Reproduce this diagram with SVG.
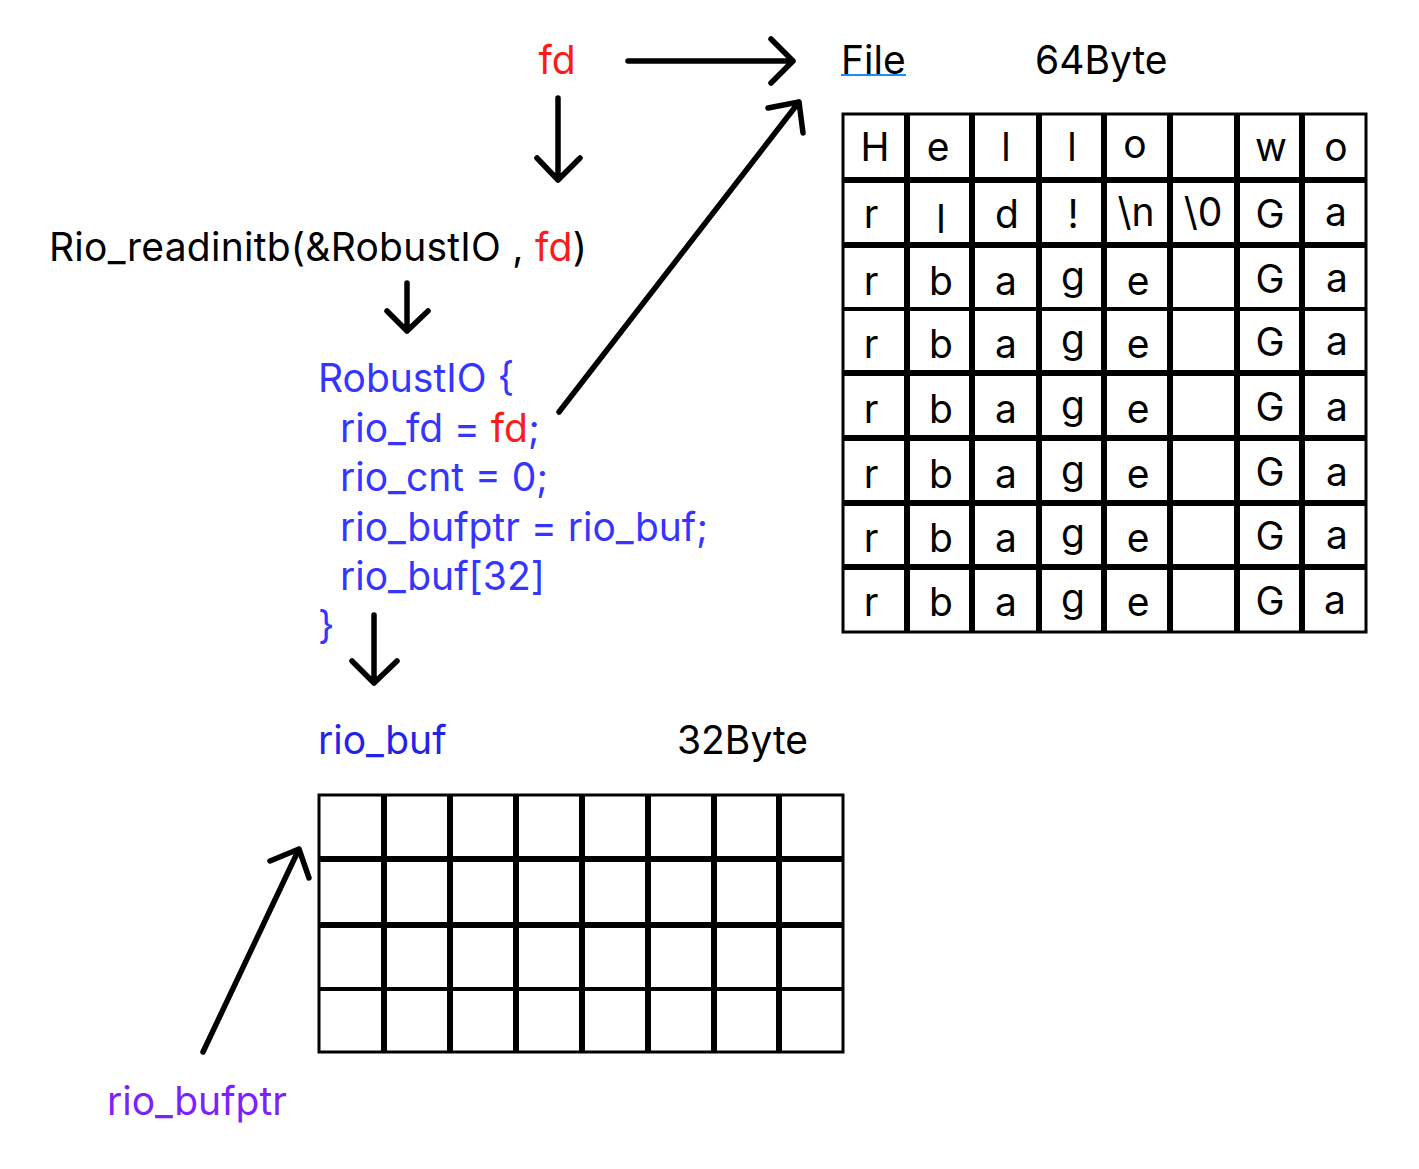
<svg xmlns="http://www.w3.org/2000/svg" width="1419" height="1169" viewBox="0 0 1419 1169">
<style>
text{font-family:Inter,"Noto Sans",sans-serif;font-size:39px;fill:#000}
.red{fill:#ff1a1a}
.blue{fill:#3535ff}
.dblue{fill:#2222e8}
.purple{fill:#7d1fff}
.c{text-anchor:middle}
.arrow{fill:none;stroke:#000;stroke-width:5.5;stroke-linecap:round;stroke-linejoin:round}
.grid{fill:none;stroke:#000;stroke-width:6}
.thin{fill:none;stroke:#000;stroke-width:4}
.outer{fill:none;stroke:#000;stroke-width:3}
</style>
<rect width="1419" height="1169" fill="#fff"/>

<g id="fd-label"><text x="557" y="74" class="red c">fd</text></g>

<g id="file-label">
<text x="841" y="74">File</text>
<line x1="841" y1="75" x2="906" y2="75" stroke="#1a8cff" stroke-width="2"/>
</g>
<g id="file-size"><text x="1035" y="74">64Byte</text></g>

<g id="rio-call"><text x="49" y="261" letter-spacing="0.25">Rio_readinitb(&amp;RobustIO , <tspan class="red">fd</tspan>)</text></g>

<g id="robustio">
<text x="318" y="392" class="blue">RobustIO {</text>
<text x="340" y="442" class="blue">rio_fd = <tspan class="red">fd</tspan>;</text>
<text x="340" y="491" class="blue">rio_cnt = 0;</text>
<text x="340" y="541" class="blue">rio_bufptr = rio_buf;</text>
<text x="340" y="590" class="blue">rio_buf[32]</text>
<text x="318" y="639" class="blue">}</text>
</g>

<g id="rio-buf-label"><text x="318" y="754" class="dblue">rio_buf</text></g>
<g id="buf-size"><text x="677" y="754">32Byte</text></g>
<g id="rio-bufptr-label"><text x="107" y="1115" class="purple">rio_bufptr</text></g>

<g id="file-grid">
<rect x="843" y="114" width="523" height="518" class="outer"/>
<path class="grid" d="M907 114V632M972 114V632M1039 114V632M1104 114V632M1170 114V632M1237 114V632M1302 114V632M843 180H1366M843 245H1366M843 373H1366M843 438H1366M843 503H1366M843 567H1366"/>
<path class="thin" d="M843 309H1366"/>
<g class="c">
<text x="875" y="161">H</text><text x="938" y="161">e</text><text x="1006" y="161">l</text><text x="1072" y="161">l</text><text x="1135" y="158">o</text><text x="1271" y="161">w</text><text x="1336" y="161">o</text>
<text x="871" y="228">r</text><text x="941" y="233">l</text><text x="1007" y="228">d</text><text x="1073" y="228">!</text><text x="1136" y="226">\n</text><text x="1203" y="226">\0</text><text x="1270" y="228">G</text><text x="1336" y="226">a</text>
<text x="871" y="295">r</text><text x="941" y="295">b</text><text x="1006" y="295">a</text><text x="1073" y="290">g</text><text x="1138" y="295">e</text><text x="1270" y="293">G</text><text x="1337" y="292">a</text>
<text x="871" y="358">r</text><text x="941" y="358">b</text><text x="1006" y="358">a</text><text x="1073" y="353">g</text><text x="1138" y="358">e</text><text x="1270" y="356">G</text><text x="1337" y="355">a</text>
<text x="871" y="423">r</text><text x="941" y="423">b</text><text x="1006" y="423">a</text><text x="1073" y="419">g</text><text x="1138" y="423">e</text><text x="1270" y="421">G</text><text x="1337" y="421">a</text>
<text x="871" y="488">r</text><text x="941" y="488">b</text><text x="1006" y="488">a</text><text x="1073" y="484">g</text><text x="1138" y="488">e</text><text x="1270" y="486">G</text><text x="1337" y="486">a</text>
<text x="871" y="552">r</text><text x="941" y="552">b</text><text x="1006" y="552">a</text><text x="1073" y="547">g</text><text x="1138" y="552">e</text><text x="1270" y="550">G</text><text x="1337" y="549">a</text>
<text x="871" y="616">r</text><text x="941" y="616">b</text><text x="1006" y="616">a</text><text x="1073" y="612">g</text><text x="1138" y="616">e</text><text x="1270" y="615">G</text><text x="1335" y="614">a</text>
</g>
</g>

<g id="buf-grid">
<rect x="319" y="795" width="524" height="257" class="outer"/>
<path class="grid" d="M384 795V1052M450 795V1052M516 795V1052M582 795V1052M648 795V1052M714 795V1052M779 795V1052M319 859H843M319 925H843"/>
<path class="thin" d="M319 989H843"/>
</g>

<g id="connectors">
<path class="arrow" d="M628 61H793M771 39L793 61L771 83"/>
<path class="arrow" d="M558 98V180M537 158L558 180L580 158"/>
<path class="arrow" d="M407 283V331M387 311L407 331L428 311"/>
<path class="arrow" d="M559 412L799 102M768 108L799 102L803 133"/>
<path class="arrow" d="M374 615V683M352 661L374 683L397 661"/>
<path class="arrow" d="M203 1052L299 849M270 861L299 849L309 878"/>
</g>
</svg>
